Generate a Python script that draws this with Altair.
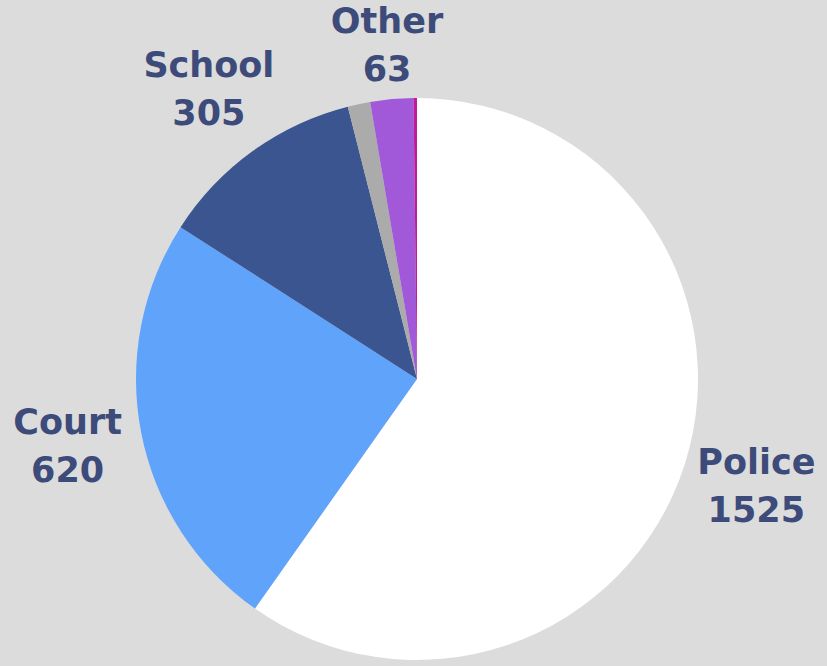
import altair as alt
import pandas as pd
import jinja2

categories = ["Police", "Court", "School", "Unlabeled", "Other", "Unlabeled 2"]
values = [1525, 620, 305, 33, 63, 5]
show_label = [True, True, True, False, True, False]
colors = ["#ffffff", "#5fa3fb", "#3a5590", "#ababab", "#a259d9", "#c2189a"]

df = pd.DataFrame({
    "category": categories,
    "value": values,
    "rank": list(range(len(categories))),
    "label": [f"{c}\n{v}" if s else "" for c, v, s in zip(categories, values, show_label)],
})

cx, cy = 417, 379
text_style = dict(
    dy=-24, font="DejaVu Sans", fontWeight="bold", fontSize=35,
    color="#3d4b7a", lineBreak="\n", lineHeight=48, align="center", baseline="middle",
)

base = alt.Chart(df).encode(
    theta=alt.Theta("value:Q", stack=True),
    order=alt.Order("rank:Q"),
)

pie = base.mark_arc(radius=281, strokeWidth=0).encode(
    x=alt.value(cx), y=alt.value(cy),
    color=alt.Color("category:N", scale=alt.Scale(domain=categories, range=colors), legend=None),
)

# labels outside the pie; the narrow top slice's label sits a bit closer
labels_main = base.transform_calculate(
    t="datum.category != 'Other' ? datum.label : ''"
).mark_text(radius=356, **text_style).encode(
    x=alt.value(cx), y=alt.value(cy),
    text="t:N",
)

labels_top = base.transform_calculate(
    t="datum.category == 'Other' ? datum.label : ''"
).mark_text(radius=334, **text_style).encode(
    x=alt.value(cx), y=alt.value(cy),
    text="t:N",
)

chart = alt.layer(pie, labels_main, labels_top).properties(
    width=827, height=666,
    autosize="none",
    padding=0,
    background="#dcdcdc",
).configure_view(stroke=None)

TEMPLATE = jinja2.Template("""<!DOCTYPE html>
<html>
<head>
<meta charset="utf-8">
<style>html, body { margin: 0; padding: 0; background: #dcdcdc; }</style>
<script type="text/javascript" src="{{ base_url }}/vega@{{ vega_version }}"></script>
<script type="text/javascript" src="{{ base_url }}/vega-lite@{{ vegalite_version }}"></script>
<script type="text/javascript" src="{{ base_url }}/vega-embed@{{ vegaembed_version }}"></script>
</head>
<body>
<div id="{{ output_div }}"></div>
<script type="text/javascript">
  var spec = {{ spec }};
  var embedOpt = Object.assign({"mode": "{{ mode }}"}, {{ embed_options }});
  vegaEmbed("#{{ output_div }}", spec, embedOpt).catch(console.error);
</script>
</body>
</html>
""")

chart.save("out.html", embed_options={"renderer": "svg", "actions": False}, template=TEMPLATE)
